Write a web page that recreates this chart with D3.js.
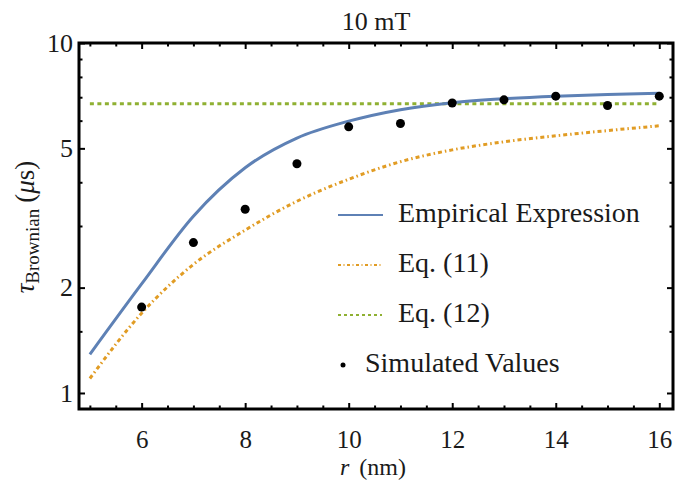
<!DOCTYPE html>
<html>
<head>
<meta charset="utf-8">
<script src="https://cdn.jsdelivr.net/npm/d3@7"></script>
<style>
body { margin: 0; background: #fff; }
text { font-family: "Liberation Serif", "Times New Roman", serif; fill: #1a1a1a; }
</style>
</head>
<body>
<script>
// Brownian relaxation time vs particle radius at 10 mT

// Simulated values
var rSim = [6, 7, 8, 9, 10, 11, 12, 13, 14, 15, 16];
var tauSim = [1.76, 2.69, 3.35, 4.52, 5.76, 5.89, 6.74, 6.88, 7.05, 6.63, 7.05];

// Curves
var rCurve = [5, 6, 7, 8, 9, 10, 11, 12, 13, 14, 15, 16];
var tauEmpirical = [1.29, 2.05, 3.2, 4.4, 5.35, 5.98, 6.45, 6.75, 6.93, 7.05, 7.13, 7.18];
var tauEq11 = [1.10, 1.69, 2.33, 2.92, 3.53, 4.08, 4.58, 4.95, 5.22, 5.43, 5.62, 5.80];
var tauEq12 = [6.71, 6.71, 6.71, 6.71, 6.71, 6.71, 6.71, 6.71, 6.71, 6.71, 6.71, 6.71];

// Ticks
var xMajor = [6, 8, 10, 12, 14, 16];
var xMinor = [5, 5.5, 6.5, 7, 7.5, 8.5, 9, 9.5, 10.5, 11, 11.5, 12.5, 13, 13.5, 14.5, 15, 15.5];
var yMajor = [1, 2, 5, 10];
var yMinor = [1.5, 3, 4, 6, 7, 8, 9];

var legendLabels = ["Empirical Expression", "Eq. (11)", "Eq. (12)", "Simulated Values"];

var colBlue = "#5e81b5";
var colOrange = "#e19c24";
var colGreen = "#8fb032";

// Setup
var w = 691;
var h = 481;
var margin = {top: 43, right: 18, bottom: 72, left: 79};

var svg = d3.select("body").append("svg")
    .attr("width", w)
    .attr("height", h);

var x = d3.scaleLinear()
    .domain([4.79, 16.265])
    .range([margin.left, w - margin.right]);

var y = d3.scaleLog()
    .domain([0.9, 10])
    .range([h - margin.bottom, margin.top]);

// Title
svg.append("text")
    .attr("x", (margin.left + w - margin.right) / 2)
    .attr("y", 30)
    .attr("text-anchor", "middle")
    .style("font-size", "26px")
    .text("10 mT");

// Curves
var line = d3.line()
    .x(function(d) { return x(d[0]); })
    .y(function(d) { return y(d[1]); })
    .curve(d3.curveMonotoneX);

function pairs(xs, ys) {
    return xs.map(function(v, i) { return [v, ys[i]]; });
}

svg.append("path")
    .datum(pairs(rCurve, tauEq12))
    .attr("d", line)
    .attr("fill", "none")
    .attr("stroke", colGreen)
    .attr("stroke-width", 3)
    .attr("stroke-dasharray", "4,3.5");

svg.append("path")
    .datum(pairs(rCurve, tauEq11))
    .attr("d", line)
    .attr("fill", "none")
    .attr("stroke", colOrange)
    .attr("stroke-width", 3)
    .attr("stroke-dasharray", "4,3,1.5,3");

svg.append("path")
    .datum(pairs(rCurve, tauEmpirical))
    .attr("d", line)
    .attr("fill", "none")
    .attr("stroke", colBlue)
    .attr("stroke-width", 3);

svg.append("g")
    .selectAll("circle")
    .data(pairs(rSim, tauSim))
    .enter()
    .append("circle")
    .attr("cx", function(d) { return x(d[0]); })
    .attr("cy", function(d) { return y(d[1]); })
    .attr("r", 4.5)
    .attr("fill", "#000");

// Frame ticks (inward, all four sides)
function styleAxis(g) {
    g.select(".domain").remove();
    g.attr("font-family", null).attr("font-size", null);
    g.selectAll(".tick line").attr("stroke", "#000").attr("stroke-width", 2);
    g.selectAll(".tick text")
        .style("font-size", "26px")
        .attr("fill", "#1a1a1a");
}

var yBottom = h - margin.bottom;
var xRight = w - margin.right;

svg.append("g")
    .attr("transform", "translate(0," + yBottom + ")")
    .call(d3.axisBottom(x).tickValues(xMajor).tickSize(-6).tickFormat(d3.format("d")))
    .call(styleAxis)
    .call(function(g) {
        g.selectAll(".tick text")
            .style("font-size", "25px")
            .attr("y", 39).attr("dy", null);
    });

svg.append("g")
    .attr("transform", "translate(0," + yBottom + ")")
    .call(d3.axisBottom(x).tickValues(xMinor).tickSize(-3.5).tickFormat(""))
    .call(styleAxis);

svg.append("g")
    .attr("transform", "translate(0," + margin.top + ")")
    .call(d3.axisTop(x).tickValues(xMajor).tickSize(-6).tickFormat(""))
    .call(styleAxis);

svg.append("g")
    .attr("transform", "translate(0," + margin.top + ")")
    .call(d3.axisTop(x).tickValues(xMinor).tickSize(-3.5).tickFormat(""))
    .call(styleAxis);

svg.append("g")
    .attr("transform", "translate(" + margin.left + ",0)")
    .call(d3.axisLeft(y).tickValues(yMajor).tickSize(-6).tickPadding(6).tickFormat(d3.format("d")))
    .call(styleAxis);

svg.append("g")
    .attr("transform", "translate(" + margin.left + ",0)")
    .call(d3.axisLeft(y).tickValues(yMinor).tickSize(-3.5).tickFormat(""))
    .call(styleAxis);

svg.append("g")
    .attr("transform", "translate(" + xRight + ",0)")
    .call(d3.axisRight(y).tickValues(yMajor).tickSize(-6).tickFormat(""))
    .call(styleAxis);

svg.append("g")
    .attr("transform", "translate(" + xRight + ",0)")
    .call(d3.axisRight(y).tickValues(yMinor).tickSize(-3.5).tickFormat(""))
    .call(styleAxis);

// Frame
svg.append("rect")
    .attr("x", margin.left)
    .attr("y", margin.top)
    .attr("width", w - margin.left - margin.right)
    .attr("height", h - margin.top - margin.bottom)
    .attr("fill", "none")
    .attr("stroke", "#000")
    .attr("stroke-width", 3);

// Axis labels
var xLabel = svg.append("text")
    .attr("x", 373)
    .attr("y", 475)
    .attr("text-anchor", "middle")
    .style("font-size", "24px");
xLabel.append("tspan").style("font-style", "italic").text("r");
xLabel.append("tspan").attr("dx", 10).text("(nm)");

var yLabel = svg.append("text")
    .attr("transform", "translate(34,227) rotate(-90)")
    .attr("text-anchor", "middle")
    .style("font-size", "27px");
yLabel.append("tspan").style("font-style", "italic").text("τ");
yLabel.append("tspan").attr("dy", 5).style("font-size", "19px").text("Brownian");
yLabel.append("tspan").attr("dy", -5).attr("dx", 6).text("(");
yLabel.append("tspan").style("font-style", "italic").text("μ");
yLabel.append("tspan").text("s)");

// Legend
var legend = svg.append("g");
var legendY = function(i) { return 215 + i * 50; };

legend.append("line")
    .attr("x1", 338).attr("x2", 383)
    .attr("y1", legendY(0)).attr("y2", legendY(0))
    .attr("stroke", colBlue).attr("stroke-width", 2.2);

legend.append("line")
    .attr("x1", 338).attr("x2", 381)
    .attr("y1", legendY(1)).attr("y2", legendY(1))
    .attr("stroke", colOrange).attr("stroke-width", 2)
    .attr("stroke-dasharray", "3,2.5,1,2.5");

legend.append("line")
    .attr("x1", 338).attr("x2", 382)
    .attr("y1", legendY(2)).attr("y2", legendY(2))
    .attr("stroke", colGreen).attr("stroke-width", 2)
    .attr("stroke-dasharray", "3,3");

legend.append("circle")
    .attr("cx", 343).attr("cy", legendY(3))
    .attr("r", 2.5).attr("fill", "#000");

legend.selectAll("text")
    .data(legendLabels)
    .enter()
    .append("text")
    .attr("x", function(d, i) { return i === 3 ? 365 : 398; })
    .attr("y", function(d, i) { return legendY(i) + 7; })
    .style("font-size", "28px")
    .text(function(d) { return d; });
</script>
</body>
</html>
